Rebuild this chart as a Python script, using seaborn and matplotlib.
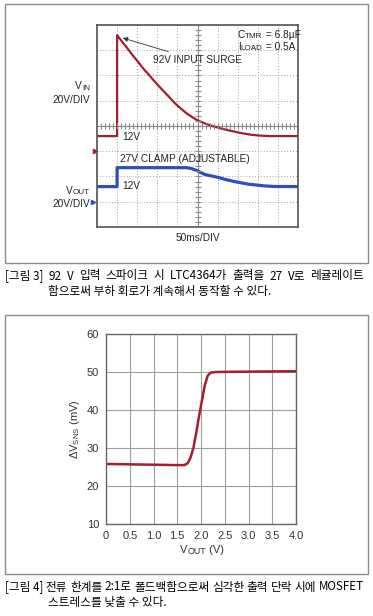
import numpy as np
import pandas as pd
import seaborn as sns
import matplotlib.pyplot as plt
from matplotlib.patches import Rectangle

# ---- Fig. 3 scope capture (time in ms, volts) ----
vin_t = [0, 50, 50, 52, 62, 78, 90, 103, 115, 128, 140, 157, 175, 194, 206, 225, 246,
         268, 289, 310, 331, 360, 385, 410, 430, 500]
vin_v = [12, 12, 92, 91, 87, 80.5, 75.5, 70.5, 65.5, 61, 56.5, 50.5, 44.5, 38, 34.5, 29.5,
         25.2, 22, 19.8, 17.9, 16.3, 14.3, 13, 12.3, 12, 12]
vout_t = [0, 50, 50, 223, 235, 248, 268, 297, 320, 345, 375, 415, 440, 500]
vout_v = [12, 12, 27, 27, 26.3, 24.8, 21.6, 19.6, 17.6, 15.8, 14, 12.6, 12.1, 12]
# ground level of each trace on screen (20 V/div)
VIN_OFS = 60
VOUT_OFS = 20

# ---- Fig. 4 foldback curve ----
vout_x = [0, 0.5, 1.0, 1.5, 1.65, 1.72, 1.78, 1.84, 1.9, 1.96, 2.02, 2.08, 2.14, 2.2, 2.3, 3.0, 4.0]
dvsns = [25.8, 25.7, 25.6, 25.5, 25.5, 26, 27.5, 30, 34, 38.5, 42.5, 46.5, 49, 49.8, 50, 50.1, 50.2]
x_ticks = [0, 0.5, 1.0, 1.5, 2.0, 2.5, 3.0, 3.5, 4.0]
x_labels = ["0", "0.5", "1.0", "1.5", "2.0", "2.5", "3.0", "3.5", "4.0"]
y_ticks = [10, 20, 30, 40, 50, 60]

cap3 = ["[그림 3]", "92 V 입력 스파이크 시 LTC4364가 출력을 27 V로 레귤레이트",
        "함으로써 부하 회로가 계속해서 동작할 수 있다."]
cap4 = ["[그림 4]", "전류 한계를 2:1로 폴드백함으로써 심각한 출력 단락 시에 MOSFET",
        "스트레스를 낮출 수 있다."]

RED = "#a31f2e"
BLUE = "#2d4fb6"
INK = "#222222"

sns.set_theme(style="white")
KR = ['Noto Sans CJK KR', 'DejaVu Sans']
plt.rcParams['font.family'] = ['Liberation Sans', 'DejaVu Sans']
plt.rcParams['mathtext.fontset'] = 'custom'
plt.rcParams['mathtext.rm'] = 'Liberation Sans'

W, H = 373, 616
fig = plt.figure(figsize=(W / 100, H / 100), dpi=100)
rend = fig.canvas.get_renderer()


def fx(x):
    return x / W


def fy(y):
    return 1 - y / H


def add_ax(x0, y0, x1, y1):
    return fig.add_axes([fx(x0), fy(y1), (x1 - x0) / W, (y1 - y0) / H])


def txt(x, y, s, **kw):
    kw.setdefault("color", INK)
    kw.setdefault("va", "center")
    return fig.text(fx(x), fy(y), s, **kw)


def sub_txt(x, y, parts, fs, ha="left", color=INK):
    # parts: list of (text, is_subscript), drawn left to right
    objs = []
    for s, is_sub in parts:
        size = fs * 0.8 if is_sub else fs
        yy = y + 2 if is_sub else y
        objs.append(txt(0, yy, s, fontsize=size, ha="left", color=color))
    widths = [o.get_window_extent(rend).width for o in objs]
    total = sum(widths)
    x0 = {"left": x, "right": x - total, "center": x - total / 2}[ha]
    for o, w in zip(objs, widths):
        o.set_x(fx(x0))
        x0 += w


def justify(x0, x1, y, words, **kw):
    objs = [txt(0, y, w, ha="left", **kw) for w in words]
    widths = [o.get_window_extent(rend).width for o in objs]
    gap = (x1 - x0 - sum(widths)) / (len(words) - 1)
    x = x0
    for o, w in zip(objs, widths):
        o.set_x(fx(x))
        x += w + gap


# outer frames
for (x0, y0, x1, y1) in [(4.5, 4.5, 367.5, 262.5), (4.5, 315, 367.5, 574)]:
    fig.patches.append(Rectangle((fx(x0), fy(y1)), (x1 - x0) / W, (y1 - y0) / H,
                                 transform=fig.transFigure, fill=False,
                                 ec="#8c8c8c", lw=1.0))

# ---- scope panel ----
ax = add_ax(97, 25, 298, 227)
vin = pd.DataFrame({"t": vin_t, "v": np.array(vin_v) + VIN_OFS})
vout = pd.DataFrame({"t": vout_t, "v": np.array(vout_v) + VOUT_OFS})
sns.lineplot(data=vin, x="t", y="v", estimator=None, sort=False, color=RED, lw=1.6, ax=ax)
sns.lineplot(data=vout, x="t", y="v", estimator=None, sort=False, color=BLUE, lw=2.3, ax=ax)
ax.set(xlim=(0, 500), ylim=(0, 160), xlabel="", ylabel="")
ax.set_xticks(range(0, 501, 50))
ax.set_yticks(range(0, 161, 20))
ax.tick_params(length=0, labelbottom=False, labelleft=False)
ax.grid(True, linestyle=(0, (1, 2)), color="#a0a0a0", lw=0.7)
for s in ax.spines.values():
    s.set_color("#555555")
    s.set_linewidth(1.2)
ax.axhline(80, color="#8a8a8a", lw=0.8, zorder=1)
ax.axvline(250, color="#8a8a8a", lw=0.8, zorder=1)
ax.plot(np.arange(10, 500, 10), [80] * 49, ls="none", marker="|", ms=4, color="#8a8a8a", mew=0.8)
ax.plot([250] * 39, np.arange(4, 160, 4), ls="none", marker="_", ms=4, color="#8a8a8a", mew=0.8)
ax.plot([-5], [VIN_OFS], marker=">", ms=3, color=RED, clip_on=False)
ax.plot([-9], [VOUT_OFS], marker=">", ms=3, color=BLUE, clip_on=False)
ax.annotate("92V INPUT SURGE", xy=(61, 150), xytext=(139, 132),
            fontsize=7.2, color=INK, ha="left", va="center",
            arrowprops=dict(arrowstyle="-|>", color="#333333", lw=0.6,
                            mutation_scale=7, shrinkA=1, shrinkB=1))

fs = 7.3
sub_txt(238, 35, [("C", False), ("TMR", True), (" = 6.8µF", False)], fs)
sub_txt(238, 47, [("I", False), ("LOAD", True), (" = 0.5A", False)], fs)
sub_txt(90, 86, [("V", False), ("IN", True)], fs, ha="right")
txt(90, 100, "20V/DIV", fontsize=fs, ha="right")
txt(122, 137, "12V", fontsize=fs, ha="left")
txt(120, 159, "27V CLAMP (ADJUSTABLE)", fontsize=fs, ha="left")
txt(122, 186, "12V", fontsize=fs, ha="left")
sub_txt(90, 191, [("V", False), ("OUT", True)], fs, ha="right")
txt(90, 204, "20V/DIV", fontsize=fs, ha="right")
txt(198, 238, "50ms/DIV", fontsize=fs, ha="center")

CAP = dict(fontsize=8.4, family=KR, color="black")
justify(5, 364, 276, [cap3[0]] + cap3[1].split(" "), **CAP)
txt(48, 291, cap3[2], ha="left", **CAP)

# ---- foldback panel ----
bx = add_ax(106, 334, 296, 524)
fold = pd.DataFrame({"vout": vout_x, "dv": dvsns})
sns.lineplot(data=fold, x="vout", y="dv", color=RED, lw=1.8, ax=bx)
bx.set(xlim=(0, 4), ylim=(10, 60), xlabel="", ylabel="")
bx.set_xticks(x_ticks, x_labels)
bx.set_yticks(y_ticks)
bx.grid(True, color="#9e9e9e", lw=0.8)
bx.tick_params(length=0, labelsize=8, labelcolor="#333333", pad=5)
for s in bx.spines.values():
    s.set_color("#666666")
    s.set_linewidth(1.0)
sub_txt(202, 550, [("V", False), ("OUT", True), (" (V)", False)], 8, ha="center", color="#333333")
bx.text(-0.165, 0.5, r"ΔV$_{\mathregular{SNS}}$ (mV)", transform=bx.transAxes,
        rotation=90, ha="center", va="center", fontsize=8, color="#333333")

justify(5, 364, 587, [cap4[0]] + cap4[1].split(" "), **CAP)
txt(48, 602, cap4[2], ha="left", **CAP)

fig.savefig("out.png", dpi=100)
